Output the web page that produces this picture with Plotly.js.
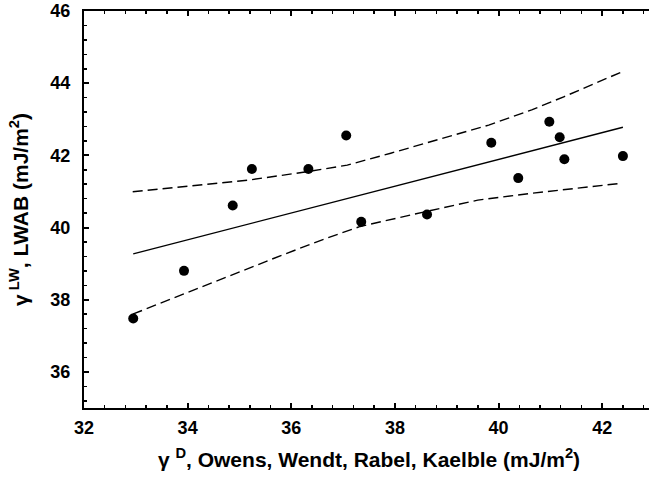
<!DOCTYPE html>
<html>
<head>
<meta charset="utf-8">
<script src="https://cdn.plot.ly/plotly-3.0.1.min.js"></script>
<style>
html, body { margin:0; padding:0; overflow:hidden; background:#fff; }
#chart { width:655px; height:487px; }
</style>
</head>
<body>
<div id="chart"></div>
<script>
// Measured data points
const gammaD  = [32.95, 33.93, 34.87, 35.24, 36.33, 37.06, 37.35, 38.62, 39.86, 40.38, 40.98, 41.18, 41.27, 42.40];
const gammaLW = [37.48, 38.80, 40.61, 41.62, 41.62, 42.55, 40.16, 40.36, 42.35, 41.37, 42.93, 42.50, 41.89, 41.98];

// Regression line (end points)
const fitX = [32.95, 42.40];
const fitY = [39.27, 42.78];

// Upper confidence band
const upperX = [32.94, 35.20, 36.32, 37.08, 37.92, 38.90, 39.81, 40.64, 41.27, 42.39];
const upperY = [40.99, 41.32, 41.55, 41.73, 42.06, 42.47, 42.84, 43.26, 43.63, 44.32];

// Lower confidence band
const lowerX = [32.94, 33.95, 34.85, 35.83, 36.67, 37.33, 38.59, 39.60, 40.64, 42.39];
const lowerY = [37.60, 38.18, 38.69, 39.24, 39.70, 40.03, 40.44, 40.76, 40.95, 41.23];

const xTickVals = [32, 34, 36, 38, 40, 42];
const yTickVals = [36, 38, 40, 42, 44, 46];

const font = 'Liberation Sans, Arial, Helvetica, sans-serif';

const traces = [
  { x: upperX, y: upperY, mode: 'lines', line: {color:'#000', width:1.4, dash:'10px,5px'}, hoverinfo:'skip' },
  { x: lowerX, y: lowerY, mode: 'lines', line: {color:'#000', width:1.4, dash:'10px,5px'}, hoverinfo:'skip' },
  { x: fitX, y: fitY, mode: 'lines', line: {color:'#000', width:1.4} },
  { x: gammaD, y: gammaLW, mode: 'markers', marker: {color:'#000', size:10, symbol:'circle'} }
];

const axisCommon = {
  showgrid: false, zeroline: false,
  showline: true, linecolor: '#000', linewidth: 2,
  mirror: 'allticks',
  ticks: 'inside', ticklen: 5, tickwidth: 2, tickcolor: '#000',
  tickfont: {family: font, size: 18, color: '#000', weight: 'bold'},
  minor: {dtick: 0.4, ticks: 'inside', ticklen: 3, tickwidth: 1.5, tickcolor: '#000', showgrid: false}
};

const layout = {
  width: 655, height: 487,
  margin: {l: 84, r: 1, t: 11, b: 79},
  paper_bgcolor: '#fff', plot_bgcolor: '#fff',
  showlegend: false,
  xaxis: Object.assign({}, axisCommon, {
    range: [32, 43], tickvals: xTickVals, ticktext: xTickVals.map(String),
    ticklabelstandoff: 2,
    title: {text: 'γ <sup>D</sup>, Owens, Wendt, Rabel, Kaelble (mJ/m<sup>2</sup>)', font: {family: font, size: 21, color: '#000', weight: 'bold'}, standoff: 16}
  }),
  yaxis: Object.assign({}, axisCommon, {
    range: [35, 46], tickvals: yTickVals, ticktext: yTickVals.map(String),
    ticklabelstandoff: 8,
    title: {text: 'γ<sup> LW</sup>, LWAB (mJ/m<sup>2</sup>)', font: {family: font, size: 21, color: '#000', weight: 'bold'}, standoff: 16}
  })
};

Plotly.newPlot('chart', traces, layout, {staticPlot: true, displayModeBar: false});
</script>
</body>
</html>
